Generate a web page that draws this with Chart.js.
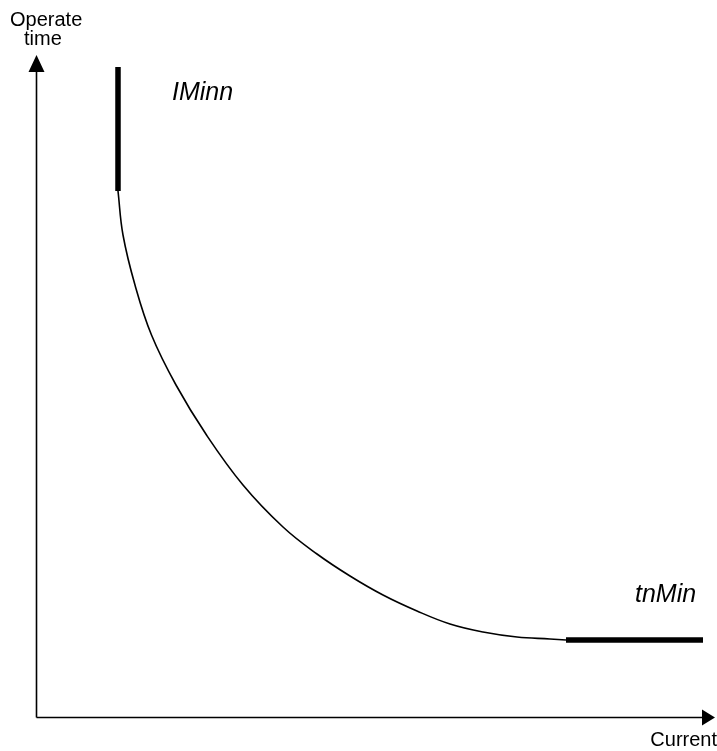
<!DOCTYPE html>
<html>
<head>
<meta charset="utf-8">
<script src="https://cdn.jsdelivr.net/npm/chart.js@4"></script>
<style>
  html, body { margin: 0; padding: 0; background: #fff; }
  #wrap { width: 717px; height: 751px; }
</style>
</head>
<body>
<div id="wrap"><canvas id="chart1"></canvas></div>
<script>
// inverse time curve (current, operate time)
const curveCurrent = [82, 87, 99, 115.5, 140, 170.5, 207, 247, 281, 314, 347, 381, 414, 447, 481, 514, 530];
const curveTime = [526, 482, 432, 382, 332, 282, 232, 190, 163, 141, 122, 106, 93, 85, 80, 78, 77];

// IMinn limit (vertical) and tnMin limit (horizontal)
const iminCurrent = [82, 82];
const iminTime = [650, 526];
const tminCurrent = [530, 667];
const tminTime = [77, 77];

// text labels
const labelNames = ['IMinn', 'tnMin'];
const labelCurrent = [136, 599];
const labelTime = [617, 115];

const xAxisTitle = 'Current';
const yAxisTitle = ['Operate', 'time'];

const toPoints = (xs, ys) => xs.map((x, i) => ({ x: x, y: ys[i] }));

const cht1 = document.getElementById('chart1');

// axes with arrow heads plus the text
const axesPlugin = {
  id: 'axesPlugin',
  afterDatasetsDraw(chart) {
    const ctx = chart.ctx;
    const a = chart.chartArea;
    const xs = chart.scales.x;
    const ys = chart.scales.y;
    const x0 = xs.getPixelForValue(0);
    const y0 = ys.getPixelForValue(0);

    ctx.save();
    ctx.strokeStyle = '#000';
    ctx.fillStyle = '#000';
    ctx.lineWidth = 1.6;

    ctx.beginPath();
    ctx.moveTo(x0 + 0.5, y0 + 0.5);
    ctx.lineTo(x0 + 0.5, a.top + 12);
    ctx.moveTo(x0 + 0.5, y0 + 0.5);
    ctx.lineTo(a.right - 10, y0 + 0.5);
    ctx.stroke();

    // y arrow
    ctx.beginPath();
    ctx.moveTo(x0 + 0.5, a.top);
    ctx.lineTo(x0 - 7.5, a.top + 17);
    ctx.lineTo(x0 + 8.5, a.top + 17);
    ctx.closePath();
    ctx.fill();

    // x arrow
    ctx.beginPath();
    ctx.moveTo(a.right, y0 + 0.5);
    ctx.lineTo(a.right - 13, y0 - 7.5);
    ctx.lineTo(a.right - 13, y0 + 8.5);
    ctx.closePath();
    ctx.fill();

    ctx.font = '20px "Liberation Sans", Arial, sans-serif';
    ctx.textBaseline = 'alphabetic';
    ctx.textAlign = 'left';
    ctx.fillText(yAxisTitle[0], 10, 26);
    ctx.fillText(yAxisTitle[1], 24, 45);
    ctx.textAlign = 'right';
    ctx.fillText(xAxisTitle, 717, 746);

    ctx.font = 'italic 25px "Liberation Sans", Arial, sans-serif';
    ctx.textAlign = 'left';
    labelNames.forEach((t, i) => {
      ctx.fillText(t, xs.getPixelForValue(labelCurrent[i]), ys.getPixelForValue(labelTime[i]));
    });
    ctx.restore();
  }
};

new Chart(cht1, {
  type: 'scatter',
  data: {
    datasets: [{
      label: 'curve',
      data: toPoints(curveCurrent, curveTime),
      showLine: true,
      borderColor: '#000',
      borderWidth: 1.6,
      pointRadius: 0,
      tension: 0.4
    }, {
      label: 'IMinn',
      data: toPoints(iminCurrent, iminTime),
      showLine: true,
      borderColor: '#000',
      borderWidth: 5.5,
      borderCapStyle: 'butt',
      pointRadius: 0
    }, {
      label: 'tnMin',
      data: toPoints(tminCurrent, tminTime),
      showLine: true,
      borderColor: '#000',
      borderWidth: 5.5,
      borderCapStyle: 'butt',
      pointRadius: 0
    }]
  },
  options: {
    responsive: true,
    maintainAspectRatio: false,
    animation: false,
    layout: {
      padding: { left: 36, top: 55, right: 2, bottom: 34 }
    },
    plugins: {
      legend: { display: false },
      tooltip: { enabled: false }
    },
    scales: {
      x: { type: 'linear', min: 0, max: 679, display: false },
      y: { type: 'linear', min: 0, max: 662, display: false }
    }
  },
  plugins: [axesPlugin]
});
</script>
</body>
</html>
